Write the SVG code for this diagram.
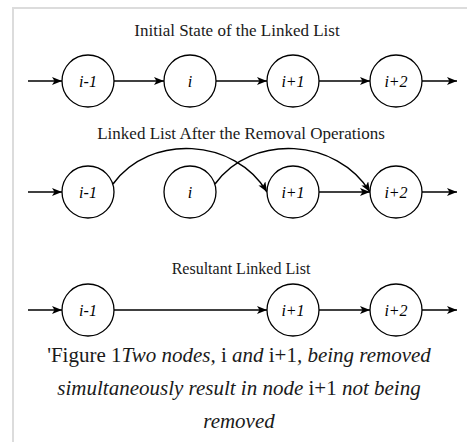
<svg xmlns="http://www.w3.org/2000/svg" width="467" height="442" viewBox="0 0 467 442">
<defs>
<marker id="arr" markerWidth="12" markerHeight="10" refX="10" refY="4" orient="auto" markerUnits="userSpaceOnUse">
<path d="M0,0 L10,4 L0,8 L2.5,4 Z" fill="#000"/>
</marker>
<style>
.frame{fill:none;stroke:#dcdcdc}
.node circle{fill:#fff;stroke:#000;stroke-width:1.3}
text{font-family:'Liberation Serif','Times New Roman','DejaVu Serif',serif}
.node text{font-style:italic;font-size:16px;text-anchor:middle;fill:#000}
.edge{fill:none;stroke:#000;stroke-width:1.5;marker-end:url(#arr)}
.title{font-size:17px;text-anchor:middle;fill:#1a1a1a}
.cap{font-size:21px;text-anchor:middle;fill:#1a1a1a}
.it{font-style:italic}
</style>
</defs>
<rect width="467" height="442" fill="#fff"/>
<path class="frame" d="M13,442 V8 H467" stroke-width="2"/>

<text class="title" x="237" y="36">Initial State of the Linked List</text>
<text class="title" x="241" y="139">Linked List After the Removal Operations</text>
<text class="title" x="241" y="274" style="font-size:16px">Resultant Linked List</text>

<g id="connectors">
<line class="edge" x1="28" y1="81" x2="62" y2="81"/>
<line class="edge" x1="114" y1="81" x2="164" y2="81"/>
<line class="edge" x1="216" y1="81" x2="267" y2="81"/>
<line class="edge" x1="319" y1="81" x2="370" y2="81"/>
<line class="edge" x1="422" y1="81" x2="457" y2="81"/>
<line class="edge" x1="28" y1="192" x2="62" y2="192"/>
<path class="edge" d="M113,184 C150,133 235,138 267,192"/>
<path class="edge" d="M215,184 C252,133 337,138 370,192"/>
<line class="edge" x1="319" y1="192" x2="370" y2="192"/>
<line class="edge" x1="422" y1="192" x2="457" y2="192"/>
<line class="edge" x1="28" y1="310" x2="62" y2="310"/>
<line class="edge" x1="114" y1="310" x2="267" y2="310"/>
<line class="edge" x1="319" y1="310" x2="370" y2="310"/>
<line class="edge" x1="422" y1="310" x2="457" y2="310"/>
</g>

<g id="r1-im1" class="node"><circle cx="88" cy="81" r="26"/><text x="88" y="87">i-1</text></g>
<g id="r1-i" class="node"><circle cx="190" cy="81" r="26"/><text x="190" y="87">i</text></g>
<g id="r1-ip1" class="node"><circle cx="293" cy="81" r="26"/><text x="293" y="87">i+1</text></g>
<g id="r1-ip2" class="node"><circle cx="396" cy="81" r="26"/><text x="396" y="87">i+2</text></g>

<g id="r2-im1" class="node"><circle cx="88" cy="192" r="26"/><text x="88" y="198">i-1</text></g>
<g id="r2-i" class="node"><circle cx="190" cy="192" r="26"/><text x="190" y="198">i</text></g>
<g id="r2-ip1" class="node"><circle cx="293" cy="192" r="26"/><text x="293" y="198">i+1</text></g>
<g id="r2-ip2" class="node"><circle cx="396" cy="192" r="26"/><text x="396" y="198">i+2</text></g>

<g id="r3-im1" class="node"><circle cx="88" cy="310" r="26"/><text x="88" y="316">i-1</text></g>
<g id="r3-ip1" class="node"><circle cx="293" cy="310" r="26"/><text x="293" y="316">i+1</text></g>
<g id="r3-ip2" class="node"><circle cx="396" cy="310" r="26"/><text x="396" y="316">i+2</text></g>

<text class="cap" x="239" y="362">'Figure 1<tspan class="it">Two nodes, </tspan>i<tspan class="it"> and </tspan>i+1<tspan class="it">, being removed</tspan></text>
<text class="cap" x="239" y="395"><tspan class="it">simultaneously result in node </tspan>i+1<tspan class="it"> not being</tspan></text>
<text class="cap it" x="239" y="428">removed</text>
</svg>
